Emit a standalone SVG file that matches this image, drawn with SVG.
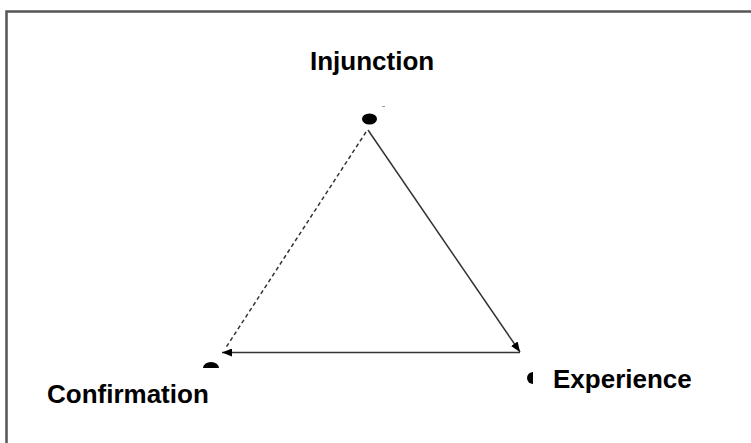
<svg xmlns="http://www.w3.org/2000/svg" width="751" height="443" viewBox="0 0 751 443">
<defs>
<style>
.lbl{font-family:"Liberation Sans",Arial,sans-serif;font-weight:bold;font-size:26px;fill:#000}
.dot{fill:#000}
.edge{stroke:#333;stroke-width:1.5;fill:none}
</style>
<marker id="ah" viewBox="0 0 10 8" refX="10" refY="4" markerWidth="10" markerHeight="8" markerUnits="userSpaceOnUse" orient="auto">
<path d="M0,0 L10,4 L0,8 Z" fill="#000"/>
</marker>
<clipPath id="topHalf"><rect x="195" y="355" width="30" height="13"/></clipPath>
<clipPath id="leftHalf"><rect x="515" y="365" width="18" height="25"/></clipPath>
</defs>
<rect width="751" height="443" fill="#fff"/>
<path d="M6.5,443 V11.5 H751" fill="none" stroke="#555" stroke-width="2.5"/>
<g id="injunction">
<ellipse class="dot" cx="369.5" cy="119" rx="7.5" ry="5.5"/>
<line x1="382" y1="106.5" x2="385" y2="106.5" stroke="#999" stroke-width="1"/>
<text class="lbl" x="310" y="70">Injunction</text>
</g>
<g id="confirmation">
<ellipse class="dot" cx="211" cy="368" rx="8" ry="6" clip-path="url(#topHalf)"/>
<text class="lbl" x="47" y="403">Confirmation</text>
</g>
<g id="experience">
<ellipse class="dot" cx="533" cy="378" rx="6" ry="6" clip-path="url(#leftHalf)"/>
<text class="lbl" x="553" y="388">Experience</text>
</g>
<g id="connectors">
<line class="edge" x1="368" y1="130" x2="520" y2="352" marker-end="url(#ah)"/>
<line class="edge" x1="520" y1="352.5" x2="222" y2="352.5" stroke-width="2" stroke="#444" marker-end="url(#ah)"/>
<line class="edge" x1="366" y1="132" x2="225" y2="349" stroke-dasharray="4,3"/>
</g>
</svg>
